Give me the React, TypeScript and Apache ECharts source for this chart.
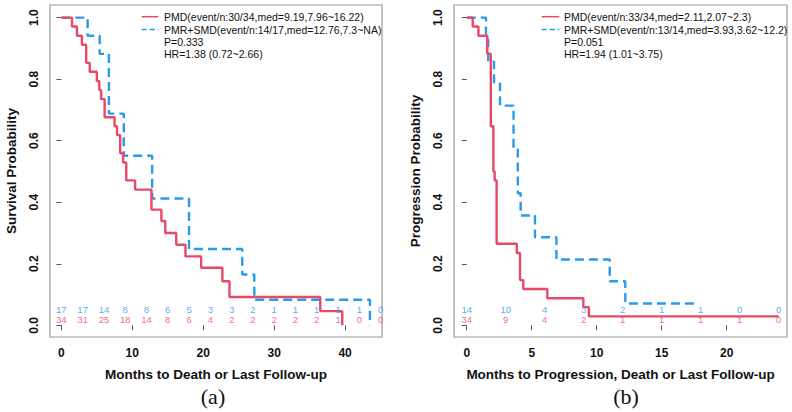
import React, { useEffect, useRef } from "react";
import * as echarts from "echarts";

// ---- Panel (a): overall survival ----
const osPmdTimes = [0, 1.5, 2.2, 2.9, 3.5, 4.0, 5.0, 5.35, 5.6, 6.1, 7.5, 7.85, 8.3, 8.7, 9.15, 10.4, 12.7, 14.1, 14.65, 16.2, 17.5, 19.7, 22.7, 23.7, 36.5, 39.6];
const osPmdSurv = [1, 0.971, 0.941, 0.912, 0.853, 0.824, 0.794, 0.765, 0.735, 0.676, 0.647, 0.618, 0.559, 0.529, 0.471, 0.441, 0.376, 0.339, 0.3, 0.262, 0.224, 0.187, 0.143, 0.092, 0.046, 0];
const osPmrTimes = [0, 3.7, 5.4, 6.7, 8.8, 12.8, 18.0, 25.5, 27.2, 43.5];
const osPmrSurv = [1, 0.941, 0.882, 0.688, 0.551, 0.412, 0.248, 0.165, 0.083, 0];
const osRiskTimes = [0, 3, 6, 9, 12, 15, 18, 21, 24, 27, 30, 33, 36, 39, 42, 45];
const osRiskPmr = [17, 17, 14, 8, 8, 6, 5, 3, 3, 2, 1, 1, 1, 1, 1, 0];
const osRiskPmd = [34, 31, 25, 18, 14, 8, 6, 4, 2, 2, 2, 2, 2, 1, 0, 0];
const osTicksX = [0, 10, 20, 30, 40];

// ---- Panel (b): progression ----
const pfsPmdTimes = [0, 0.46, 0.9, 1.58, 1.85, 2.05, 2.15, 2.3, 3.85, 4.1, 4.35, 6.2, 8.97, 9.4, 24.0];
const pfsPmdSurv = [1, 0.971, 0.941, 0.882, 0.647, 0.5, 0.471, 0.265, 0.235, 0.147, 0.118, 0.088, 0.059, 0.029, 0.029];
const pfsPmrTimes = [0, 1.48, 1.65, 2.1, 2.56, 3.6, 3.93, 4.15, 5.25, 6.9, 11.0, 12.2, 17.8];
const pfsPmrSurv = [1, 0.929, 0.857, 0.786, 0.714, 0.571, 0.429, 0.357, 0.286, 0.214, 0.143, 0.071, 0.071];
const pfsRiskTimes = [0, 3, 6, 9, 12, 15, 18, 21, 24];
const pfsRiskPmr = [14, 10, 4, 3, 2, 1, 1, 0, 0];
const pfsRiskPmd = [34, 9, 4, 2, 1, 1, 1, 1, 0];
const pfsTicksX = [0, 5, 10, 15, 20];

const yTicks = [0, 0.2, 0.4, 0.6, 0.8, 1.0];

const legendA = [
  "PMD(event/n:30/34,med=9.19,7.96~16.22)",
  "PMR+SMD(event/n:14/17,med=12.76,7.3~NA)",
  "P=0.333",
  "HR=1.38 (0.72~2.66)",
];
const legendB = [
  "PMD(event/n:33/34,med=2.11,2.07~2.3)",
  "PMR+SMD(event/n:13/14,med=3.93,3.62~12.2)",
  "P=0.051",
  "HR=1.94 (1.01~3.75)",
];

const RED = "#E64A68";
const BLUE = "#2A9AEA";
const FONT = "'Liberation Sans', Arial, Helvetica, sans-serif";
const RISK_ROW_PMR = 0.052;
const RISK_ROW_PMD = 0.0195;

function zip(a: number[], b: number[]) {
  return a.map((t, i) => [t, b[i]]);
}

function riskSeries(idx: number, times: number[], counts: number[], row: number, color: string) {
  return {
    type: "scatter",
    xAxisIndex: idx,
    yAxisIndex: idx,
    symbolSize: 1,
    itemStyle: { color: "transparent" },
    silent: true,
    z: 5,
    data: times.map((t, i) => [t, row, counts[i]]),
    label: {
      show: true,
      position: "inside",
      formatter: (p: any) => String(p.value[2]),
      color,
      fontSize: 9.5,
      fontFamily: FONT,
    },
  };
}

function kmSeries(idx: number, times: number[], surv: number[], color: string, dashed: boolean) {
  return {
    type: "line",
    xAxisIndex: idx,
    yAxisIndex: idx,
    step: "end",
    symbol: "none",
    data: zip(times, surv),
    lineStyle: { color, width: 2.4, type: dashed ? [9, 5] : "solid" },
    z: dashed ? 3 : 4,
  };
}

function xAxis(idx: number, min: number, max: number, ticks: number[], name: string) {
  return {
    type: "value",
    gridIndex: idx,
    min,
    max,
    axisLine: { show: false },
    splitLine: { show: false },
    axisTick: { show: true, customValues: ticks, length: 5, lineStyle: { color: "#555" } },
    axisLabel: { customValues: ticks, fontSize: 12, fontWeight: "bold", color: "#111", fontFamily: FONT, margin: 10 },
    name,
    nameLocation: "middle",
    nameGap: 30,
    nameTextStyle: { fontSize: 13.5, fontWeight: "bold", color: "#111", fontFamily: FONT },
  };
}

function yAxis(idx: number, name: string) {
  return {
    type: "value",
    gridIndex: idx,
    min: -0.038,
    max: 1.041,
    axisLine: { show: false },
    splitLine: { show: false },
    axisTick: { show: true, customValues: yTicks, length: 5, lineStyle: { color: "#555" } },
    axisLabel: {
      customValues: yTicks,
      rotate: 90,
      fontSize: 12,
      fontWeight: "bold",
      color: "#111",
      fontFamily: FONT,
      margin: 10,
      formatter: (v: number) => v.toFixed(1),
    },
    name,
    nameLocation: "middle",
    nameRotate: 90,
    nameGap: 32,
    nameTextStyle: { fontSize: 13.5, fontWeight: "bold", color: "#111", fontFamily: FONT },
  };
}

function legendGraphics(lineX0: number, lineX1: number, textX: number, texts: string[]) {
  const ys = [16.7, 29.5, 41.7, 53.5];
  const els: any[] = [
    { type: "line", shape: { x1: lineX0, y1: ys[0], x2: lineX1, y2: ys[0] }, style: { stroke: RED, lineWidth: 1.5 } },
    { type: "line", shape: { x1: lineX0, y1: ys[1], x2: lineX1, y2: ys[1] }, style: { stroke: BLUE, lineWidth: 1.5, lineDash: [5, 3] } },
  ];
  texts.forEach((t, i) => {
    els.push({
      type: "text",
      x: textX,
      y: ys[i],
      style: { text: t, fontSize: 10.5, fontFamily: FONT, fill: "#111", verticalAlign: "middle", align: "left" },
    });
  });
  return els;
}

export default function App() {
  const ref = useRef<HTMLDivElement>(null);
  useEffect(() => {
    if (!ref.current) return;
    const chart = echarts.init(ref.current, null, { renderer: "svg" });
    chart.setOption({
      animation: false,
      backgroundColor: "#ffffff",
      grid: [
        { left: 50, top: 5, width: 332, height: 332, show: true, borderColor: "#999", borderWidth: 1.2, backgroundColor: "transparent" },
        { left: 454, top: 5, width: 333, height: 332, show: true, borderColor: "#999", borderWidth: 1.2, backgroundColor: "transparent" },
      ],
      xAxis: [
        xAxis(0, -1.6, 45.2, osTicksX, "Months to Death or Last Follow-up"),
        xAxis(1, -0.98, 24.64, pfsTicksX, "Months to Progression, Death or Last Follow-up"),
      ],
      yAxis: [yAxis(0, "Survival Probability"), yAxis(1, "Progression Probability")],
      series: [
        kmSeries(0, osPmrTimes, osPmrSurv, BLUE, true),
        kmSeries(0, osPmdTimes, osPmdSurv, RED, false),
        kmSeries(1, pfsPmrTimes, pfsPmrSurv, BLUE, true),
        kmSeries(1, pfsPmdTimes, pfsPmdSurv, RED, false),
        riskSeries(0, osRiskTimes, osRiskPmr, RISK_ROW_PMR, BLUE),
        riskSeries(0, osRiskTimes, osRiskPmd, RISK_ROW_PMD, RED),
        riskSeries(1, pfsRiskTimes, pfsRiskPmr, RISK_ROW_PMR, BLUE),
        riskSeries(1, pfsRiskTimes, pfsRiskPmd, RISK_ROW_PMD, RED),
      ],
      graphic: [
        ...legendGraphics(141.7, 158.3, 164, legendA),
        ...legendGraphics(541.7, 559.3, 564, legendB),
        {
          type: "text",
          x: 213,
          y: 396,
          style: { text: "(a)", fontSize: 22, fontFamily: "'Liberation Serif', 'Times New Roman', serif", fill: "#111", align: "center", verticalAlign: "middle" },
        },
        {
          type: "text",
          x: 626,
          y: 396,
          style: { text: "(b)", fontSize: 22, fontFamily: "'Liberation Serif', 'Times New Roman', serif", fill: "#111", align: "center", verticalAlign: "middle" },
        },
      ],
    });
    return () => chart.dispose();
  }, []);
  return <div ref={ref} style={{ position: "absolute", left: 0, top: 0, width: 792, height: 412 }} />;
}
